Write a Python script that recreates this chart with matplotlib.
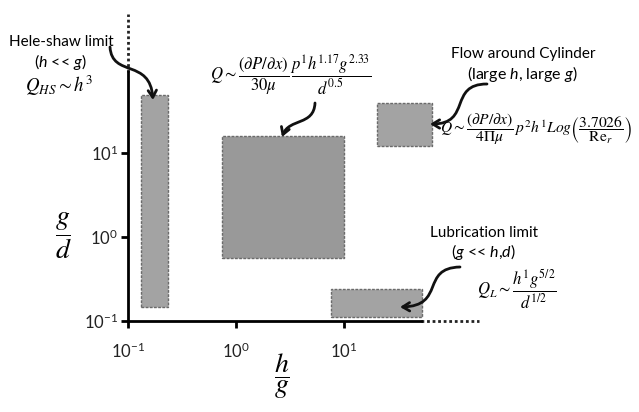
import matplotlib.pyplot as plt
from matplotlib.patches import FancyArrowPatch
from matplotlib.path import Path
import numpy as np

plt.rcParams['font.family'] = ['Lato', 'DejaVu Sans']
plt.rcParams['mathtext.fontset'] = 'custom'
plt.rcParams['mathtext.rm'] = 'Lato'
plt.rcParams['mathtext.it'] = 'Lato:italic'
plt.rcParams['mathtext.bf'] = 'Lato:bold'

# regime boxes, h/g range and g/d range
regimes = ['Hele-shaw', 'Intermediate', 'Cylinder', 'Lubrication']
hg_lo = [0.132, 0.74, 20.4, 7.6]
hg_hi = [0.234, 10.0, 65.0, 52.6]
gd_lo = [0.147, 0.56, 12.1, 0.112]
gd_hi = [48.6, 15.8, 39.0, 0.238]
box_colors = ['#a3a3a3', '#999999', '#a3a3a3', '#a3a3a3']

xticks = [0.1, 1, 10]
yticks = [0.1, 1, 10]
xtick_labels = ['$10^{-1}$', '$10^{0}$', '$10^{1}$']
ytick_labels = ['$10^{-1}$', '$10^{0}$', '$10^{1}$']

xlim = (0.1, 10**2.25)
ylim = (0.1, 10**2.66)
x_solid_end = 10**1.71
y_solid_end = 10**1.96

W, H = 639, 412


def fx(px):
    return px / W


def fy(py):
    return 1 - py / H


fig = plt.figure(figsize=(W / 100, H / 100), dpi=100)
ax = fig.add_axes([fx(128), fy(321), 351 / W, 307.4 / H])
ax.set_xscale('log')
ax.set_yscale('log')
ax.set_xlim(*xlim)
ax.set_ylim(*ylim)

for i in range(len(regimes)):
    ax.fill([hg_lo[i], hg_hi[i], hg_hi[i], hg_lo[i]],
            [gd_lo[i], gd_lo[i], gd_hi[i], gd_hi[i]],
            facecolor=box_colors[i], edgecolor='#6a6a6a',
            linewidth=1, linestyle=(0, (2, 1)))

# axes: solid part then dotted continuation
for s in ['top', 'right']:
    ax.spines[s].set_visible(False)
ax.spines['left'].set_bounds(ylim[0], y_solid_end)
ax.spines['bottom'].set_bounds(xlim[0], x_solid_end)
ax.spines['left'].set_linewidth(2)
ax.spines['bottom'].set_linewidth(2)
ax.plot([xlim[0], xlim[0]], [y_solid_end, ylim[1]], color='#222222', lw=2,
        ls=(0, (1, 1)), clip_on=False)
ax.plot([x_solid_end, xlim[1]], [ylim[0], ylim[0]], color='#222222', lw=2,
        ls=(0, (1, 1)), clip_on=False)

ax.minorticks_off()
ax.set_xticks(xticks)
ax.set_xticklabels(xtick_labels)
ax.set_yticks(yticks)
ax.set_yticklabels(ytick_labels)
ax.tick_params(axis='both', direction='out', length=5, width=2,
               labelsize=12, labelcolor='#222222')
ax.tick_params(axis='x', pad=10)
ax.tick_params(axis='y', pad=2)

# axis labels
fig.text(fx(63), fy(236), r'$\dfrac{g}{d}$', fontsize=20, math_fontfamily='stix',
         ha='center', va='center')
fig.text(fx(282), fy(376), r'$\dfrac{h}{g}$', fontsize=20, math_fontfamily='stix',
         ha='center', va='center')

# annotations
fig.text(fx(61), fy(42), 'Hele-shaw limit', fontsize=11, ha='center', va='center')
fig.text(fx(60), fy(62), r'($h$ << $g$)', fontsize=11.5, ha='center', va='center')
fig.text(fx(59), fy(86), r'$Q_{HS}\sim h^{3}$', fontsize=13.5,
         math_fontfamily='stix', ha='center', va='center')

fig.text(fx(291), fy(75),
         r'$Q\sim\dfrac{\left(\partial P/\partial x\right)}{30\mu}'
         r'\,\dfrac{p^{1}h^{1.17}g^{2.33}}{d^{0.5}}$',
         fontsize=12, math_fontfamily='stix', ha='center', va='center')

fig.text(fx(523), fy(54), 'Flow around Cylinder', fontsize=11, ha='center', va='center')
fig.text(fx(522), fy(74), r'(large $h$, large $g$)', fontsize=11.5, ha='center', va='center')
fig.text(fx(536), fy(129),
         r'$Q\sim\dfrac{\left(\partial P/\partial x\right)}{4\Pi\mu}'
         r'\,p^{2}h^{1}Log\left(\dfrac{3.7026}{\mathrm{Re}_r}\right)$',
         fontsize=11.2, math_fontfamily='stix', ha='center', va='center')

fig.text(fx(484), fy(233), 'Lubrication limit', fontsize=11, ha='center', va='center')
fig.text(fx(483), fy(252), r'($g$ << $h$,$d$)', fontsize=11.5, ha='center', va='center')
fig.text(fx(517), fy(289), r'$Q_L\sim\dfrac{h^{1}g^{5/2}}{d^{1/2}}$', fontsize=12,
         math_fontfamily='stix', ha='center', va='center')

# curved pointer arrows (pixel coords: start, ctrl1, ctrl2, end)
arrows = [
    [(110, 47), (112, 78), (150, 58), (153, 100)],
    [(315, 103), (314, 126), (289, 118), (282, 137)],
    [(487, 84), (448, 84), (472, 124), (430, 124)],
    [(460, 267), (420, 268), (446, 306), (400, 307)],
]
for pts in arrows:
    verts = [(fx(x), fy(y)) for x, y in pts]
    path = Path(verts, [Path.MOVETO, Path.CURVE4, Path.CURVE4, Path.CURVE4])
    fig.patches.append(FancyArrowPatch(path=path, transform=fig.transFigure,
                                       arrowstyle='->,head_length=5,head_width=3',
                                       color='#111111', lw=2))

fig.savefig('out.png', dpi=100)
